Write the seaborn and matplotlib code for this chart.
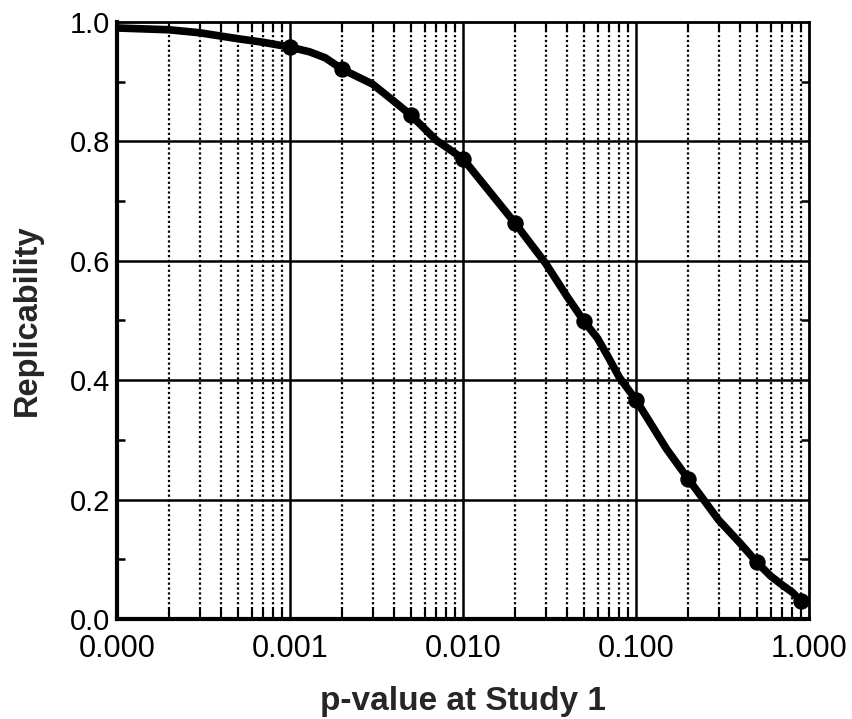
import numpy as np
import pandas as pd
import matplotlib
matplotlib.use("Agg")
import matplotlib.pyplot as plt
import matplotlib.ticker as mticker
import seaborn as sns

# curve
curve_p = [0.0001, 0.0002, 0.0003, 0.0005, 0.0007, 0.001, 0.0013, 0.0016, 0.002, 0.003, 0.004,
           0.005, 0.007, 0.01, 0.02, 0.03, 0.04, 0.05, 0.06, 0.07, 0.08, 0.1,
           0.15, 0.2, 0.3, 0.4, 0.5, 0.6, 0.7, 0.8, 0.9]
curve_r = [0.990, 0.987, 0.982, 0.972, 0.966, 0.958, 0.950, 0.940, 0.921, 0.896, 0.867,
           0.844, 0.802, 0.771, 0.663, 0.596, 0.540, 0.499, 0.470, 0.436, 0.405, 0.367,
           0.285, 0.235, 0.166, 0.127, 0.095, 0.072, 0.057, 0.045, 0.030]

# points with markers
mark_p = [0.001, 0.002, 0.005, 0.01, 0.02, 0.05, 0.1, 0.2, 0.5, 0.9]
mark_r = [0.958, 0.921, 0.844, 0.771, 0.663, 0.499, 0.367, 0.235, 0.095, 0.030]

x_major = [0.0001, 0.001, 0.01, 0.1, 1.0]
y_major = [0.0, 0.2, 0.4, 0.6, 0.8, 1.0]
y_minor = [0.1, 0.3, 0.5, 0.7, 0.9]

sns.set_theme(style="white")
plt.rcParams['font.family'] = ['Liberation Sans', 'DejaVu Sans']

fig = plt.figure(figsize=(8.52, 7.19), dpi=100)
ax = fig.add_axes([0.1373, 0.1391, 0.8122, 0.8303])

curve = pd.DataFrame({"p": curve_p, "r": curve_r})
marks = pd.DataFrame({"p": mark_p, "r": mark_r})

ax.set_xscale("log")
ax.set_xlim(1e-4, 1.0)
ax.set_ylim(0, 1.0)

# grid: solid major, dotted minor on x
minor_x = [m * 10.0 ** e for e in range(-4, 0) for m in range(2, 10)]
for v in x_major[1:-1]:
    ax.axvline(v, color="black", lw=1.8, zorder=1)
for v in minor_x:
    ax.axvline(v, color="black", lw=1.6, ls=(0, (1, 1.2)), zorder=1)
for v in y_major[1:-1]:
    ax.axhline(v, color="black", lw=1.8, zorder=1)

sns.lineplot(data=curve, x="p", y="r", ax=ax, color="black", lw=5.5, zorder=3,
             solid_capstyle="round", solid_joinstyle="round")
sns.scatterplot(data=marks, x="p", y="r", ax=ax, color="black", s=140,
                edgecolor="black", linewidth=0, zorder=4)

ax.set_xticks(x_major)
ax.xaxis.set_major_formatter(mticker.FuncFormatter(lambda v, pos: f"{v:.3f}"))
ax.set_xticks(minor_x, minor=True)
ax.xaxis.set_minor_formatter(mticker.NullFormatter())
ax.set_yticks(y_major)
ax.yaxis.set_major_formatter(mticker.FuncFormatter(lambda v, pos: f"{v:.1f}"))
ax.set_yticks(y_minor, minor=True)

ax.tick_params(axis="x", which="major", direction="in", length=0, labelsize=22,
               colors="black", pad=11)
ax.tick_params(axis="y", which="major", direction="in", length=0, labelsize=21,
               colors="black", pad=5)
ax.tick_params(axis="x", which="minor", direction="in", length=7, width=1.5,
               top=True, bottom=True, color="black")
ax.tick_params(axis="y", which="minor", direction="in", length=6, width=1.8,
               left=True, right=True, color="black")

for side in ["left", "bottom"]:
    ax.spines[side].set_linewidth(3)
for side in ["top", "right"]:
    ax.spines[side].set_linewidth(2)
for s in ax.spines.values():
    s.set_color("black")
    s.set_zorder(5)

ax.set_xlabel("p-value at Study 1", fontsize=24, fontweight="bold", labelpad=16)
ax.set_ylabel("Replicability", fontsize=23.5, fontweight="bold", labelpad=19)

fig.savefig("out.png", dpi=100)
